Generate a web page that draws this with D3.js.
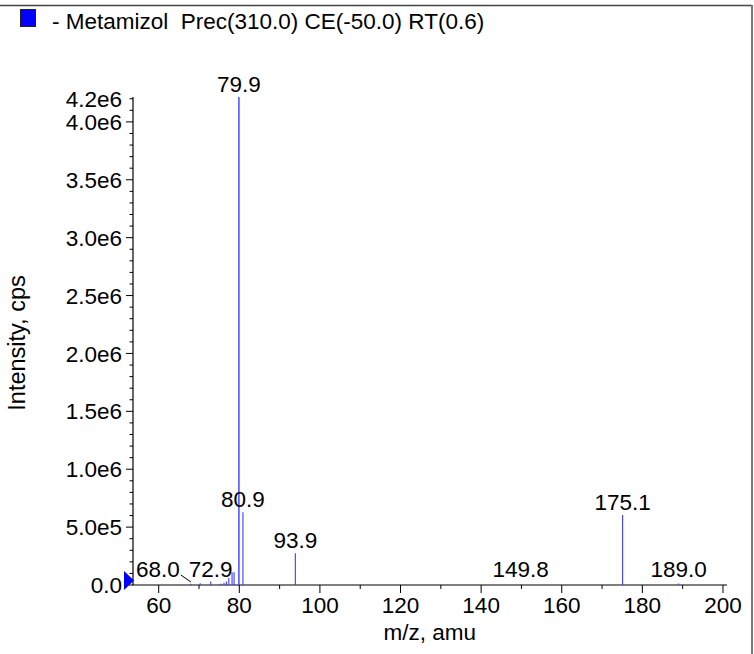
<!DOCTYPE html>
<html><head><meta charset="utf-8">
<script src="https://cdn.jsdelivr.net/npm/d3@7"></script>
<style>
html,body{margin:0;padding:0;background:#fff;}
svg text{font-family:"Liberation Sans",Arial,Helvetica,sans-serif;fill:#000;}
</style></head>
<body>
<svg id="chart" width="754" height="654"></svg>
<script>
// ---- data ----
const legendLabel = "- Metamizol  Prec(310.0) CE(-50.0) RT(0.6)";
const mz = [68.0, 70.3, 72.9, 75.4, 76.2, 76.8, 77.4, 78.2, 78.7, 79.9, 80.9, 93.9, 149.8, 175.1, 189.0];
const intensity = [10000, 15000, 30000, 10000, 20000, 30000, 60000, 110000, 110000, 4215000, 628000, 274000, 4000, 604000, 12000];
const labeledPeaks = [68.0, 72.9, 79.9, 80.9, 93.9, 149.8, 175.1, 189.0];
const xTickLabels = ["60", "80", "100", "120", "140", "160", "180", "200"];
const yTickLabels = ["0.0", "5.0e5", "1.0e6", "1.5e6", "2.0e6", "2.5e6", "3.0e6", "3.5e6", "4.0e6", "4.2e6"];
const xTitle = "m/z, amu";
const yTitle = "Intensity, cps";

// ---- layout ----
const svg = d3.select("#chart");
const FS = 22.5;
const x = d3.scaleLinear().domain([53.5, 201]).range([132.5, 727]);
const y = d3.scaleLinear().domain([0, 4215000]).range([585, 97]);
const blue = "#3b3bff";

// frame
svg.append("line").attr("x1", 0).attr("x2", 752).attr("y1", 5.5).attr("y2", 5.5)
  .attr("stroke", "#444").attr("stroke-width", 1.5);
svg.append("line").attr("x1", 752).attr("x2", 752).attr("y1", 5).attr("y2", 654)
  .attr("stroke", "#777").attr("stroke-width", 2);

// legend
svg.append("rect").attr("x", 20.5).attr("y", 9.5).attr("width", 15).attr("height", 17)
  .attr("fill", "#0000ff").attr("stroke", "#222").attr("stroke-width", 1);
svg.append("text").attr("x", 52).attr("y", 29).attr("font-size", FS)
  .style("white-space", "pre").text(legendLabel);

// x axis
const xMajor = xTickLabels.map(Number);
const xMinor = d3.range(60, 201, 10).filter(v => !xMajor.includes(v));
const gx = svg.append("g");
gx.append("line").attr("x1", x.range()[0]).attr("x2", x.range()[1]).attr("y1", y(0)).attr("y2", y(0))
  .attr("stroke", "#000").attr("stroke-width", 1.2);
gx.selectAll("line.maj").data(xMajor).join("line").attr("class", "maj")
  .attr("x1", d => x(d)).attr("x2", d => x(d)).attr("y1", y(0)).attr("y2", y(0) + 8)
  .attr("stroke", "#000").attr("stroke-width", 1);
gx.selectAll("line.min").data(xMinor).join("line").attr("class", "min")
  .attr("x1", d => x(d)).attr("x2", d => x(d)).attr("y1", y(0)).attr("y2", y(0) + 4)
  .attr("stroke", "#000").attr("stroke-width", 1);
gx.selectAll("text").data(xTickLabels).join("text")
  .attr("x", d => x(+d)).attr("y", 613).attr("text-anchor", "middle").attr("font-size", FS).text(d => d);
svg.append("text").attr("x", (x.range()[0] + x.range()[1]) / 2).attr("y", 640)
  .attr("text-anchor", "middle").attr("font-size", FS).text(xTitle);

// y axis
const yMajorVals = yTickLabels.map(Number);
const yMinor = d3.range(0, 4200001, 100000).filter(v => v % 500000 !== 0);
const gy = svg.append("g");
gy.append("line").attr("x1", 133).attr("x2", 133).attr("y1", y(0)).attr("y2", y.range()[1])
  .attr("stroke", "#000").attr("stroke-width", 1.2);
gy.selectAll("line.maj").data(yMajorVals.filter(v => v % 500000 === 0)).join("line").attr("class", "maj")
  .attr("x1", 126).attr("x2", 133).attr("y1", d => y(d)).attr("y2", d => y(d))
  .attr("stroke", "#000").attr("stroke-width", 1);
gy.selectAll("line.min").data(yMinor).join("line").attr("class", "min")
  .attr("x1", 129.5).attr("x2", 133).attr("y1", d => y(d)).attr("y2", d => y(d))
  .attr("stroke", "#000").attr("stroke-width", 1);
gy.selectAll("text").data(yTickLabels).join("text")
  .attr("x", 122).attr("y", d => y(+d)).attr("dy", "0.36em")
  .attr("text-anchor", "end").attr("font-size", FS).text(d => d);
svg.append("text").attr("transform", "translate(25,343) rotate(-90)")
  .attr("text-anchor", "middle").attr("font-size", 23.5).text(yTitle);

// marker triangle
svg.append("path").attr("d", `M124,571 L134,580.5 L124,590 Z`).attr("fill", "#0000ff");

// peaks
const peaks = mz.map((m, i) => ({ mz: m, v: intensity[i] }));
svg.append("g").selectAll("line").data(peaks).join("line")
  .attr("x1", d => x(d.mz)).attr("x2", d => x(d.mz))
  .attr("y1", y(0)).attr("y2", d => y(d.v))
  .attr("stroke", blue).attr("stroke-width", d => d.v > 1e6 ? 1.4 : 1.1);

// labels with simple collision avoidance
const lab = peaks.filter(p => labeledPeaks.includes(p.mz)).map(p => {
  const base = Math.min(y(p.v) - 5, y(0) - 8);
  return { ...p, lx: x(p.mz), ly: base, text: p.mz.toFixed(1), w: 0 };
});
const gl = svg.append("g");
const texts = gl.selectAll("text").data(lab).join("text")
  .attr("text-anchor", "middle").attr("font-size", FS).text(d => d.text)
  .attr("x", d => d.lx).attr("y", d => d.ly);
texts.each(function(d) { d.w = this.getComputedTextLength(); });
for (let i = lab.length - 2; i >= 0; i--) {
  const a = lab[i], b = lab[i + 1];
  if (Math.abs(a.ly - b.ly) < FS) {
    const overlap = (a.lx + a.w / 2) - (b.lx - b.w / 2) + 9;
    if (overlap > 0) { a.lx -= overlap; a.shifted = true; }
  }
}
texts.attr("x", d => d.lx);
lab.filter(d => d.shifted).forEach(d => {
  gl.append("line").attr("x1", d.lx + d.w / 2 + 1).attr("y1", d.ly - 2)
    .attr("x2", x(d.mz)).attr("y2", d.ly + 5)
    .attr("stroke", "#000").attr("stroke-width", 1);
});
</script>
</body></html>
